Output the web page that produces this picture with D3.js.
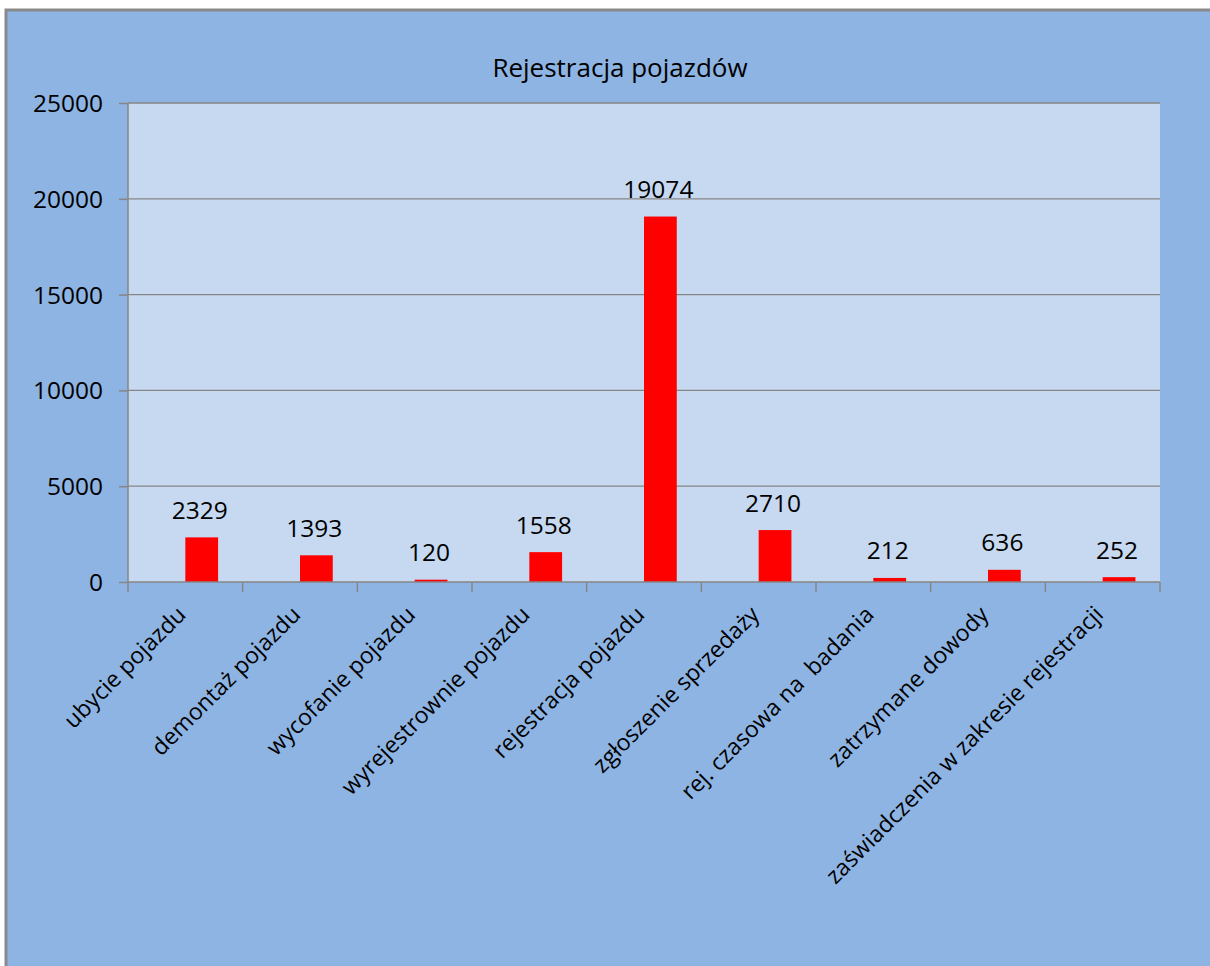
<!DOCTYPE html>
<html>
<head>
<meta charset="utf-8">
<script src="https://cdn.jsdelivr.net/npm/d3@7"></script>
<style>
  html, body { margin: 0; padding: 0; background: #ffffff; }
  svg { display: block; }
  text { font-family: "Open Sans", "Noto Sans", sans-serif; fill: #000; }
</style>
</head>
<body>
<svg id="chart" width="1210" height="966"></svg>
<script>
const title = "Rejestracja pojazdów";
const categories = [
  "ubycie pojazdu",
  "demontaż pojazdu",
  "wycofanie pojazdu",
  "wyrejestrownie pojazdu",
  "rejestracja pojazdu",
  "zgłoszenie sprzedaży",
  "rej. czasowa na  badania",
  "zatrzymane dowody",
  "zaświadczenia w zakresie rejestracji"
];
const values = [2329, 1393, 120, 1558, 19074, 2710, 212, 636, 252];
const seriesSlots = ["empty", "count"];
const yTicks = [0, 5000, 10000, 15000, 20000, 25000];

const svg = d3.select("#chart");
const W = 1210, H = 966;
const plot = { left: 128, right: 1160, top: 103, bottom: 582 };

// outer chart area
svg.append("rect")
  .attr("x", 6).attr("y", 10)
  .attr("width", W + 10).attr("height", H + 10)
  .attr("fill", "#8EB4E3")
  .attr("stroke", "#8a8a8a").attr("stroke-width", 3);

// plot area
svg.append("rect")
  .attr("x", plot.left).attr("y", plot.top)
  .attr("width", plot.right - plot.left).attr("height", plot.bottom - plot.top)
  .attr("fill", "#C6D9F0");

const x = d3.scaleBand().domain(categories).range([plot.left, plot.right]).padding(0);
const xs = d3.scaleBand().domain(seriesSlots).range([0, x.bandwidth()]).paddingInner(0).paddingOuter(0.75);
const y = d3.scaleLinear().domain([0, 25000]).range([plot.bottom, plot.top]);

// gridlines
svg.append("g").selectAll("line").data(yTicks.filter(d => d > 0)).join("line")
  .attr("x1", plot.left).attr("x2", plot.right)
  .attr("y1", d => y(d)).attr("y2", d => y(d))
  .attr("stroke", "#868686").attr("stroke-width", 1.3);

// bars
svg.append("g").selectAll("rect").data(values).join("rect")
  .attr("x", (d, i) => x(categories[i]) + xs("count"))
  .attr("width", xs.bandwidth())
  .attr("y", d => y(d))
  .attr("height", d => y(0) - y(d))
  .attr("fill", "#FF0000");

// value labels
svg.append("g").selectAll("text").data(values).join("text")
  .attr("x", (d, i) => x(categories[i]) + xs("count") + xs.bandwidth() / 2 - 2)
  .attr("y", d => y(d) - 18.5)
  .attr("text-anchor", "middle")
  .attr("font-size", 24.5)
  .text(d => d);

// y axis
const yAxis = d3.axisLeft(y).tickValues(yTicks).tickSize(9).tickPadding(16).tickFormat(d3.format("d"));
const gy = svg.append("g").attr("transform", `translate(${plot.left},0)`).call(yAxis);
gy.select(".domain").attr("stroke", "#868686").attr("stroke-width", 1.5).attr("d", `M-0,${plot.top}V${plot.bottom}`);
gy.selectAll(".tick line").attr("stroke", "#868686").attr("stroke-width", 1.5);
gy.selectAll(".tick text").attr("font-size", 24.5).attr("font-family", "Open Sans").attr("fill", "#000").attr("dy", "0.35em");

// x axis line & ticks at category boundaries
const boundaries = categories.map(c => x(c)).concat([plot.right]);
svg.append("line")
  .attr("x1", plot.left).attr("x2", plot.right)
  .attr("y1", plot.bottom).attr("y2", plot.bottom)
  .attr("stroke", "#868686").attr("stroke-width", 1.5);
svg.append("g").selectAll("line").data(boundaries).join("line")
  .attr("x1", d => d).attr("x2", d => d)
  .attr("y1", plot.bottom).attr("y2", plot.bottom + 10)
  .attr("stroke", "#868686").attr("stroke-width", 1.5);

// category labels
svg.append("g").selectAll("text").data(categories).join("text")
  .attr("text-anchor", "end")
  .attr("font-size", 23)
  .style("white-space", "pre")
  .attr("xml:space", "preserve")
  .attr("transform", c => `translate(${x(c) + x.bandwidth() / 2 + 2},${plot.bottom + 34}) rotate(-45)`)
  .text(c => c);

// title
svg.append("text")
  .attr("x", 620).attr("y", 77)
  .attr("text-anchor", "middle")
  .attr("font-size", 26)
  .text(title);
</script>
</body>
</html>
